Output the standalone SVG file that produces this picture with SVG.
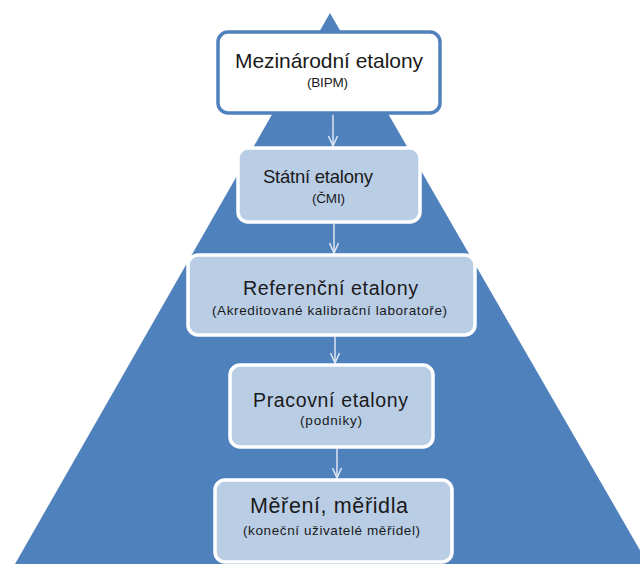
<svg xmlns="http://www.w3.org/2000/svg" width="640" height="564" viewBox="0 0 640 564">
  <style>
    .bg { fill: #ffffff; }
    .pyramid { fill: #4f81bd; }
    .box { fill: #b9cde5; stroke: #ffffff; stroke-width: 3.5; }
    .box-top { fill: #ffffff; stroke: #4f81bd; stroke-width: 3.5; }
    .title { font-family: "Liberation Sans", Arial, sans-serif; fill: #1a1a1a; }
    .sub { font-family: "Liberation Sans", Arial, sans-serif; fill: #1a1a1a; font-size: 13.5px; }
    .link { stroke: #dce6f2; stroke-width: 1.5; fill: none; }
  </style>
  <defs>
    <marker id="vhead" viewBox="0 0 12 10" refX="11" refY="5" markerWidth="12" markerHeight="10" markerUnits="userSpaceOnUse" orient="auto">
      <path d="M1,0.5 L11,5 L1,9.5" fill="none" stroke="#dce6f2" stroke-width="1.5"/>
    </marker>
  </defs>

  <rect class="bg" x="0" y="0" width="640" height="564"/>

  <!-- background pyramid -->
  <polygon class="pyramid" points="330,13 15,564 648,564"/>

  <!-- connectors -->
  <g id="connectors">
    <line class="link" x1="333" y1="114.5" x2="333" y2="146" marker-end="url(#vhead)"/>
    <line class="link" x1="334" y1="223.5" x2="334" y2="253" marker-end="url(#vhead)"/>
    <line class="link" x1="335" y1="336.5" x2="335" y2="363" marker-end="url(#vhead)"/>
    <line class="link" x1="337" y1="448.5" x2="337" y2="478" marker-end="url(#vhead)"/>
  </g>

  <!-- levels of the hierarchy -->
  <g id="level-international">
    <rect class="box-top" x="218" y="32" width="222" height="81" rx="10"/>
    <text class="title" x="235" y="68" font-size="21" textLength="188">Mezinárodní etalony</text>
    <text class="sub" x="307" y="87" textLength="41">(BIPM)</text>
  </g>

  <g id="level-national">
    <rect class="box" x="238" y="148" width="182" height="74" rx="10"/>
    <text class="title" x="263" y="183" font-size="18.5" textLength="110">Státní etalony</text>
    <text class="sub" x="312" y="203" textLength="33">(ČMI)</text>
  </g>

  <g id="level-reference">
    <rect class="box" x="188" y="255" width="287" height="80" rx="10"/>
    <text class="title" x="243" y="295" font-size="19.7" textLength="175">Referenční etalony</text>
    <text class="sub" x="212" y="315" textLength="235">(Akreditované kalibrační laboratoře)</text>
  </g>

  <g id="level-working">
    <rect class="box" x="230" y="365" width="203" height="82" rx="10"/>
    <text class="title" x="253" y="407" font-size="19.5" textLength="155">Pracovní etalony</text>
    <text class="sub" x="300" y="425" textLength="62">(podniky)</text>
  </g>

  <g id="level-measurement">
    <rect class="box" x="215" y="480" width="237" height="82" rx="10"/>
    <text class="title" x="250" y="513" font-size="21.5" textLength="158">Měření, měřidla</text>
    <text class="sub" x="243" y="535" textLength="177">(koneční uživatelé měřidel)</text>
  </g>
</svg>
